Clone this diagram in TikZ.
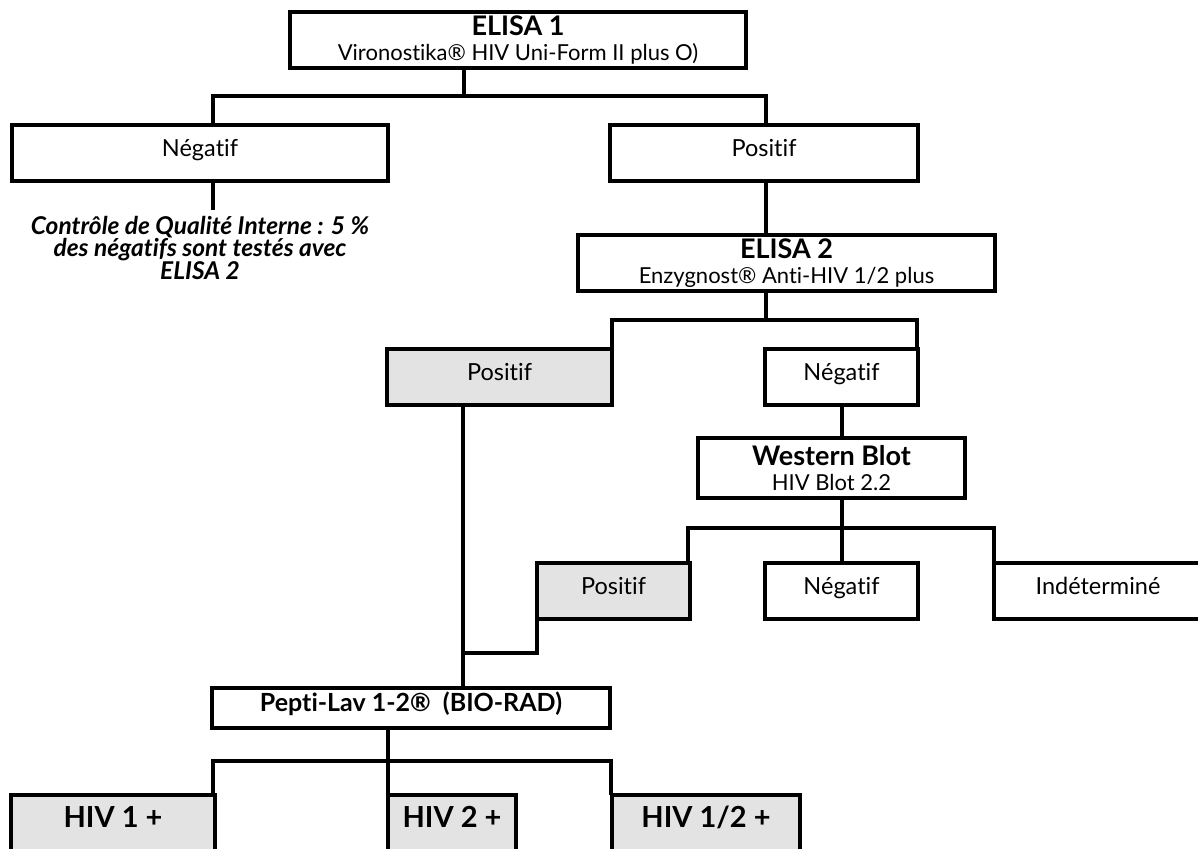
\documentclass[tikz,border=0pt]{standalone}
\usepackage{fontspec}
\setmainfont{Lato}[Ligatures=NoCommon]
\definecolor{boxgray}{RGB}{227,227,227}
\newcommand\mytitle{\fontsize{27}{28}\selectfont\bfseries}
\newcommand\mysubt{\fontsize{22}{25}\selectfont\mdseries}
\newcommand\mylab{\fontsize{23.5}{26}\selectfont}
\newcommand\mynote{\fontsize{24.5}{20.5}\selectfont\bfseries\itshape}
\begin{document}
\begin{tikzpicture}[x=1pt,y=-1pt,
  base/.style={draw, line width=4pt, inner sep=0pt, minimum height=56pt, align=center, fill=white},
  box/.style={base, font=\mylab, text height=0.72em, text depth=0.1em},
  tbox/.style={base, font=\fontsize{22}{25}\selectfont},
  gbox/.style={box, fill=boxgray},
  conn/.style={line width=4pt, line cap=rect},
  notetext/.style={align=center, font=\mynote, inner sep=0pt}]
\useasboundingbox (0,0) rectangle (1198,848);
\clip (0,0) rectangle (1198,848);
\fill[white] (0,0) rectangle (1198,848);
% boxes
\node[tbox, minimum width=456pt] (e1) at (518,40) {{\mytitle ELISA 1}\\{\mysubt Vironostika® HIV Uni-Form II plus O)}};
\node[box, minimum width=376pt] (neg1) at (200,153) {Négatif};
\node[box, minimum width=308pt] (pos1) at (764,153) {Positif};
\node[notetext] (note) at (200,248) {Contrôle de Qualité Interne : 5 \%\\des négatifs sont testés avec\\ELISA 2};
\node[tbox, minimum width=417pt] (e2) at (786.5,263) {{\mytitle ELISA 2}\\{\mysubt Enzygnost® Anti-HIV 1/2 plus}};
\node[gbox, minimum width=225pt] (pos2) at (499.5,377) {Positif};
\node[box, minimum width=153pt] (neg2) at (841.5,377) {Négatif};
\node[tbox, minimum width=267pt, minimum height=60pt] (wb) at (831.5,468) {{\mytitle Western Blot}\\{\mysubt HIV Blot 2.2}};
\node[gbox, minimum width=153pt] (pos3) at (613.5,591) {Positif};
\node[box, minimum width=153pt] (neg3) at (841.5,591) {Négatif};
\node[box, minimum width=208pt] (ind) at (1098,591) {Indéterminé};
\node[box, minimum width=398pt, minimum height=40pt, font=\fontsize{25}{26}\selectfont\bfseries] (pep) at (411,708) {Pepti-Lav 1-2®~~(BIO-RAD)};
\node[gbox, minimum width=204pt, minimum height=58pt, font=\fontsize{29}{30}\selectfont\bfseries] (hiv1) at (113,824) {HIV 1 +};
\node[gbox, minimum width=128pt, minimum height=58pt, font=\fontsize{29}{30}\selectfont\bfseries] (hiv2) at (452,824) {HIV 2 +};
\node[gbox, minimum width=188pt, minimum height=58pt, font=\fontsize{29}{30}\selectfont\bfseries] (hiv12) at (706,824) {HIV 1/2 +};
% junction coordinates
\coordinate (c1) at (464,96);
\coordinate (c1l) at (213,96);
\coordinate (c1r) at (766,96);
\coordinate (q1) at (213,208);
\coordinate (c2) at (766,320);
\coordinate (c2l) at (612,320);
\coordinate (c2r) at (917,320);
\coordinate (c3) at (842,528);
\coordinate (c3l) at (688,528);
\coordinate (c3r) at (994,528);
\coordinate (c4) at (537,653);
\coordinate (c4l) at (463,653);
\coordinate (c5) at (388,761);
\coordinate (c5l) at (213,761);
\coordinate (c5r) at (611,761);
% connectors
\draw[conn] (e1.south -| c1) -- (c1);
\draw[conn] (neg1.north -| c1l) -- (c1l) -- (c1r) -- (pos1.north -| c1r);
\draw[conn] (neg1.south -| q1) -- (q1);
\draw[conn] (pos1.south -| c1r) -- (e2.north -| c1r);
\draw[conn] (e2.south -| c2) -- (c2);
\draw[conn] (pos2.north -| c2l) -- (c2l) -- (c2r) -- (neg2.north -| c2r);
\draw[conn] (neg2.south -| c3) -- (wb.north -| c3);
\draw[conn] (wb.south -| c3) -- (c3);
\draw[conn] (pos3.north -| c3l) -- (c3l) -- (c3r) -- (ind.north -| c3r);
\draw[conn] (c3) -- (neg3.north -| c3);
\draw[conn] (pos2.south -| c4l) -- (pep.north -| c4l);
\draw[conn] (pos3.south -| c4) -- (c4) -- (c4l);
\draw[conn] (pep.south -| c5) -- (c5);
\draw[conn] (hiv1.north -| c5l) -- (c5l) -- (c5r) -- (hiv12.north -| c5r);
\draw[conn] (c5) -- (hiv2.north -| c5);
\end{tikzpicture}
\end{document}
